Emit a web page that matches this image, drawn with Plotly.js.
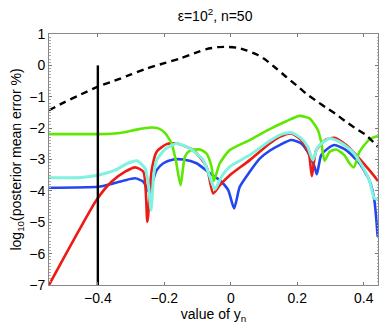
<!DOCTYPE html>
<html>
<head>
<meta charset="utf-8">
<script src="https://cdn.plot.ly/plotly-3.0.1.min.js"></script>
<style>
  html, body { margin: 0; padding: 0; background: #fff; }
  #graph { width: 382px; height: 324px; }
</style>
</head>
<body>
<div id="graph"></div>
<script>
// values
let GREEN_X = [-0.547, -0.40, -0.36, -0.32, -0.28, -0.24, -0.22, -0.198, -0.178, -0.165, -0.151, -0.138, -0.123, -0.093, -0.073, -0.058, -0.051, -0.033, -0.003, 0.057, 0.117, 0.167, 0.207, 0.237, 0.262, 0.272, 0.282, 0.297, 0.317, 0.342, 0.357, 0.370, 0.387, 0.417, 0.443]
let GREEN_Y = [-2.19, -2.19, -2.18, -2.13, -2.04, -1.98, -2.00, -2.15, -2.49, -3.05, -3.82, -2.91, -2.72, -2.68, -2.81, -3.23, -3.68, -3.12, -2.70, -2.38, -2.03, -1.78, -1.61, -1.69, -2.06, -2.44, -3.04, -2.76, -2.68, -2.86, -3.12, -3.25, -2.76, -2.36, -2.25]

let CYAN_X = [-0.547, -0.45, -0.40, -0.35, -0.31, -0.283, -0.258, -0.248, -0.240, -0.232, -0.223, -0.198, -0.163, -0.123, -0.083, -0.063, -0.048, -0.028, -0.003, 0.057, 0.117, 0.147, 0.182, 0.212, 0.232, 0.247, 0.262, 0.297, 0.327, 0.367, 0.397, 0.417, 0.432, 0.443]
let CYAN_Y = [-3.58, -3.57, -3.50, -3.35, -3.12, -3.04, -3.28, -3.80, -4.61, -3.50, -3.02, -2.68, -2.49, -2.65, -3.02, -3.55, -3.95, -3.55, -3.23, -2.86, -2.41, -2.22, -2.14, -2.33, -2.60, -3.02, -2.60, -2.33, -2.44, -2.76, -3.23, -3.66, -4.24, -4.26]

let RED_X = [-0.547, -0.498, -0.459, -0.404, -0.359, -0.318, -0.288, -0.263, -0.251, -0.238, -0.223, -0.193, -0.163, -0.113, -0.073, -0.053, -0.033, -0.003, 0.057, 0.117, 0.147, 0.182, 0.212, 0.235, 0.244, 0.257, 0.287, 0.312, 0.347, 0.387, 0.417, 0.443]
let RED_Y = [-7.0, -6.05, -5.30, -4.29, -3.71, -3.39, -3.25, -3.39, -4.98, -3.34, -2.75, -2.51, -2.49, -2.70, -3.23, -4.08, -3.82, -3.50, -3.02, -2.49, -2.28, -2.17, -2.38, -2.81, -3.53, -2.70, -2.36, -2.31, -2.54, -2.97, -3.34, -3.68]

let BLUE_X = [-0.547, -0.40, -0.359, -0.318, -0.288, -0.263, -0.245, -0.232, -0.223, -0.203, -0.173, -0.143, -0.103, -0.063, -0.033, -0.008, 0.010, 0.027, 0.057, 0.087, 0.117, 0.147, 0.182, 0.212, 0.237, 0.252, 0.259, 0.272, 0.292, 0.312, 0.347, 0.387, 0.417, 0.432, 0.442]
let BLUE_Y = [-3.90, -3.87, -3.78, -3.66, -3.60, -3.71, -4.05, -3.60, -3.34, -3.12, -3.00, -3.00, -3.12, -3.44, -3.66, -3.97, -4.56, -3.87, -3.39, -2.97, -2.72, -2.54, -2.38, -2.49, -2.86, -3.23, -3.47, -2.86, -2.65, -2.54, -2.70, -3.12, -3.66, -4.29, -5.46]

let DASH_X = [-0.547, -0.50, -0.45, -0.40, -0.35, -0.30, -0.253, -0.20, -0.153, -0.10, -0.073, -0.04, -0.013, 0.02, 0.047, 0.08, 0.107, 0.137, 0.167, 0.197, 0.227, 0.257, 0.287, 0.317, 0.347, 0.377, 0.407, 0.443]
let DASH_Y = [-1.43, -1.17, -0.92, -0.68, -0.49, -0.29, -0.10, 0.07, 0.22, 0.42, 0.52, 0.58, 0.59, 0.56, 0.48, 0.34, 0.16, -0.10, -0.37, -0.63, -0.90, -1.13, -1.35, -1.56, -1.80, -2.02, -2.22, -2.60]

let MARK_X = [-0.4, -0.4]
let MARK_Y = [-7, 0]

let X_TICKS = [-0.4, -0.2, 0, 0.2, 0.4]
let X_LABELS = ["\u22120.4", "\u22120.2", "0", "0.2", "0.4"]
let Y_TICKS = [-7, -6, -5, -4, -3, -2, -1, 0, 1]
let Y_LABELS = ["\u22127", "\u22126", "\u22125", "\u22124", "\u22123", "\u22122", "\u22121", "0", "1"]

function line(x, y, color, width, dash) {
  return {
    x: x, y: y, type: "scatter", mode: "lines",
    line: { color: color, width: width, dash: dash || "solid", shape: "spline", smoothing: 0.6 },
    hoverinfo: "skip", showlegend: false
  }
}

let data = [
  line(BLUE_X, BLUE_Y, "#2446f0", 2.6),
  line(RED_X, RED_Y, "#ee1a14", 2.6),
  line(GREEN_X, GREEN_Y, "#5ce800", 2.6),
  line(CYAN_X, CYAN_Y, "#7ff2e0", 3),
  line(DASH_X, DASH_Y, "#000000", 2.4, "7px,5px"),
  line(MARK_X, MARK_Y, "#000000", 2.4)
]

let font = { family: "Liberation Sans, Arial, sans-serif", size: 14, color: "#000" }

let layout = {
  width: 382,
  height: 324,
  margin: { l: 49, r: 3.5, t: 33.7, b: 39 },
  paper_bgcolor: "#fff",
  plot_bgcolor: "#fff",
  font: font,
  title: {
    text: "\u03b5=10<sup>2</sup>, n=50",
    font: font,
    x: 0.563, xanchor: "center",
    y: 0.95, yanchor: "middle"
  },
  xaxis: {
    range: [-0.547, 0.443],
    tickvals: X_TICKS, ticktext: X_LABELS,
    ticks: "inside", ticklen: 3, tickcolor: "#777",
    showline: true, linecolor: "#888", linewidth: 1, mirror: "ticks",
    showgrid: false, zeroline: false,
    tickfont: font,
    title: { text: "value of y<sub>n</sub>", font: font, standoff: 3 }
  },
  yaxis: {
    range: [-7, 1],
    tickvals: Y_TICKS, ticktext: Y_LABELS,
    ticks: "inside", ticklen: 3, tickcolor: "#777",
    showline: true, linecolor: "#888", linewidth: 1, mirror: "ticks",
    showgrid: false, zeroline: false,
    minor: { ticks: "inside", ticklen: 1.5, dtick: 0.1, tickcolor: "#aaa", showgrid: false },
    tickfont: font,
    title: { text: "log<sub>10</sub>(posterior mean error %)", font: font, standoff: 4 }
  }
}

Plotly.newPlot("graph", data, layout, { staticPlot: true, displayModeBar: false })
</script>
</body>
</html>
